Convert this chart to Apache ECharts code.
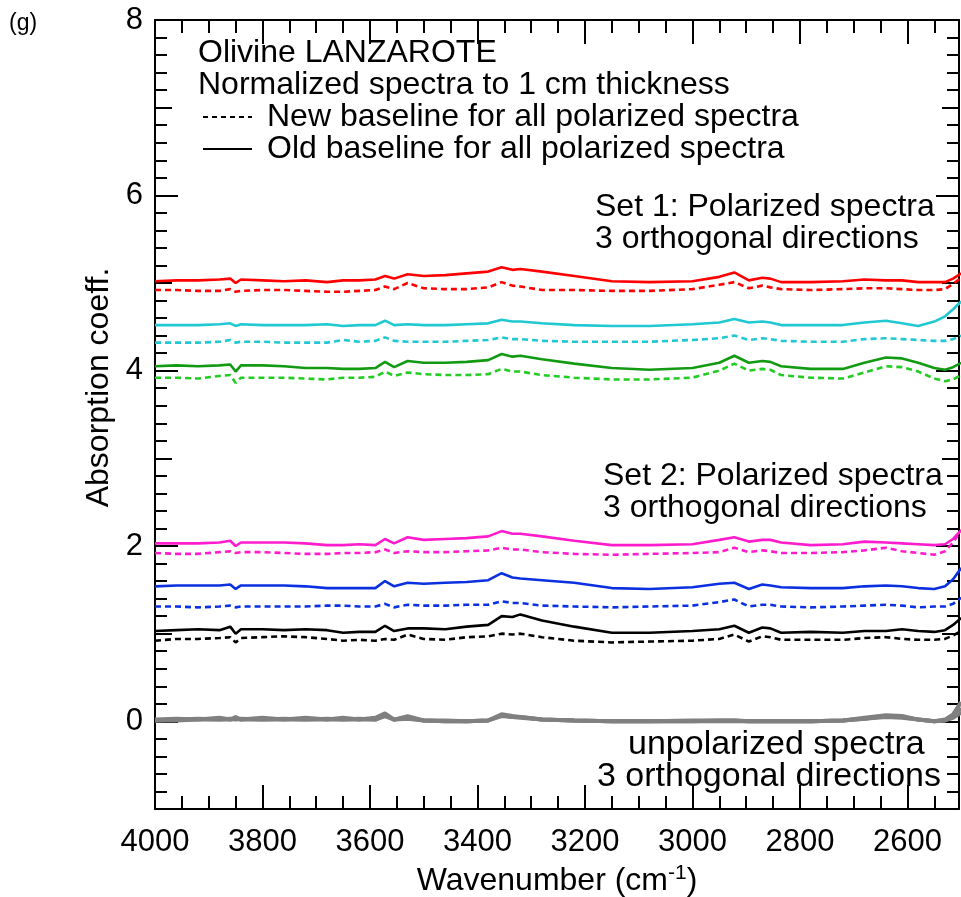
<!DOCTYPE html>
<html><head><meta charset="utf-8">
<script src="https://cdn.jsdelivr.net/npm/echarts@6/dist/echarts.min.js"></script>
<style>html,body{margin:0;padding:0;background:#fff}#c{width:961px;height:897px}</style>
</head><body><div id="c"></div>
<script>
// Wavenumber grid (cm-1)
const wn = [4000,3960,3920,3880,3860,3850,3840,3800,3760,3720,3680,3650,3620,3590,3572,3555,3530,3500,3460,3420,3380,3355,3335,3320,3280,3220,3150,3080,3000,2950,2922,2895,2870,2855,2835,2780,2720,2680,2640,2610,2580,2550,2530,2515,2500];

// Set 1
const redOld   = [5.02,5.03,5.03,5.04,5.05,5.00,5.04,5.03,5.02,5.03,5.01,5.03,5.03,5.04,5.08,5.05,5.10,5.08,5.09,5.11,5.13,5.18,5.15,5.16,5.13,5.08,5.02,5.01,5.02,5.07,5.12,5.03,5.06,5.05,5.01,5.01,5.02,5.04,5.03,5.03,5.01,5.01,5.01,5.05,5.11];
const redNew   = [4.92,4.92,4.91,4.91,4.93,4.90,4.91,4.92,4.92,4.91,4.90,4.90,4.91,4.92,4.96,4.93,5.00,4.94,4.93,4.93,4.95,5.01,4.97,4.96,4.92,4.92,4.91,4.91,4.93,4.98,5.01,4.94,4.97,4.95,4.93,4.92,4.93,4.94,4.94,4.93,4.92,4.92,4.93,4.99,5.06];
const cyanOld  = [4.52,4.52,4.52,4.53,4.54,4.51,4.53,4.52,4.52,4.52,4.53,4.51,4.52,4.52,4.57,4.52,4.53,4.52,4.52,4.53,4.54,4.58,4.56,4.56,4.54,4.52,4.51,4.51,4.53,4.55,4.59,4.55,4.56,4.55,4.52,4.52,4.52,4.55,4.57,4.54,4.51,4.56,4.62,4.70,4.79];
const cyanNew  = [4.32,4.32,4.32,4.33,4.35,4.32,4.33,4.33,4.32,4.32,4.32,4.35,4.33,4.34,4.38,4.34,4.33,4.33,4.33,4.34,4.35,4.38,4.36,4.36,4.34,4.33,4.33,4.33,4.35,4.37,4.40,4.35,4.37,4.36,4.34,4.33,4.33,4.36,4.37,4.36,4.35,4.34,4.34,4.36,4.40];
const greenOld = [4.05,4.06,4.05,4.06,4.07,3.99,4.06,4.06,4.05,4.03,4.03,4.02,4.02,4.03,4.10,4.04,4.11,4.09,4.09,4.10,4.12,4.19,4.16,4.17,4.13,4.08,4.03,4.01,4.03,4.09,4.17,4.09,4.11,4.10,4.05,4.02,4.02,4.09,4.15,4.14,4.09,4.03,4.01,4.04,4.09];
const greenNew = [3.92,3.92,3.91,3.94,3.95,3.86,3.92,3.92,3.92,3.91,3.90,3.92,3.92,3.93,3.99,3.94,3.98,3.96,3.95,3.95,3.96,4.02,3.99,3.99,3.95,3.92,3.90,3.90,3.92,4.00,4.08,4.00,4.02,4.01,3.95,3.92,3.91,3.98,4.05,4.04,3.99,3.91,3.88,3.90,3.95];
// Set 2
const magOld   = [2.03,2.03,2.03,2.04,2.06,2.00,2.04,2.04,2.04,2.03,2.01,2.01,2.02,2.01,2.08,2.03,2.10,2.07,2.08,2.09,2.11,2.17,2.14,2.14,2.11,2.06,2.01,2.01,2.02,2.07,2.10,2.05,2.07,2.07,2.04,2.01,2.02,2.05,2.04,2.03,2.02,2.01,2.02,2.08,2.18];
const magNew   = [1.92,1.91,1.91,1.93,1.94,1.92,1.93,1.93,1.92,1.91,1.91,1.92,1.92,1.93,1.96,1.92,1.94,1.93,1.93,1.94,1.95,1.98,1.96,1.96,1.93,1.91,1.90,1.91,1.92,1.93,1.98,1.93,1.95,1.94,1.92,1.92,1.93,1.95,1.98,1.94,1.92,1.90,1.94,2.04,2.18];
const blueOld  = [1.54,1.55,1.55,1.55,1.56,1.51,1.55,1.55,1.55,1.54,1.52,1.52,1.52,1.52,1.60,1.54,1.58,1.57,1.58,1.59,1.61,1.69,1.64,1.63,1.61,1.58,1.52,1.51,1.53,1.57,1.58,1.51,1.56,1.55,1.53,1.52,1.52,1.54,1.55,1.54,1.52,1.51,1.54,1.62,1.75];
const blueNew  = [1.31,1.31,1.30,1.31,1.32,1.30,1.31,1.31,1.31,1.31,1.32,1.32,1.31,1.31,1.34,1.30,1.33,1.32,1.32,1.33,1.33,1.37,1.35,1.35,1.32,1.31,1.30,1.31,1.32,1.36,1.39,1.31,1.33,1.33,1.31,1.30,1.31,1.32,1.33,1.32,1.30,1.31,1.31,1.34,1.41];
const blackOld = [1.03,1.04,1.05,1.04,1.08,1.00,1.05,1.05,1.04,1.05,1.04,1.01,1.02,1.02,1.09,1.03,1.06,1.06,1.05,1.08,1.10,1.20,1.19,1.22,1.15,1.08,1.01,1.01,1.03,1.05,1.09,1.01,1.07,1.06,1.01,1.02,1.01,1.03,1.03,1.05,1.03,1.02,1.04,1.10,1.18];
const blackNew = [0.92,0.94,0.94,0.95,0.96,0.90,0.95,0.96,0.97,0.96,0.94,0.92,0.93,0.92,0.94,0.93,0.99,0.94,0.93,0.96,0.97,1.00,0.99,1.00,0.96,0.92,0.90,0.91,0.92,0.94,0.99,0.91,0.97,0.96,0.93,0.93,0.93,0.95,0.96,0.94,0.93,0.93,0.94,0.98,1.03];
// Unpolarized (3 directions)
const unpol1 = [0.02,0.03,0.02,0.04,0.02,0.05,0.02,0.04,0.02,0.04,0.02,0.04,0.02,0.04,0.09,0.02,0.06,0.01,0.00,0.00,0.01,0.08,0.06,0.05,0.02,0.01,0.00,0.00,0.01,0.01,0.01,0.00,0.00,0.00,0.00,0.00,0.01,0.04,0.07,0.06,0.02,0.00,0.02,0.08,0.22];
const unpol2 = [0.01,0.02,0.03,0.02,0.03,0.02,0.03,0.02,0.03,0.02,0.03,0.02,0.03,0.02,0.07,0.02,0.04,0.01,0.01,0.00,0.01,0.07,0.05,0.05,0.02,0.01,0.00,0.00,0.00,0.01,0.01,0.00,0.00,0.00,0.00,0.00,0.01,0.03,0.06,0.05,0.02,0.00,0.01,0.05,0.15];
const unpol3 = [0.01,0.01,0.02,0.02,0.02,0.03,0.02,0.02,0.02,0.02,0.02,0.02,0.02,0.02,0.06,0.02,0.03,0.01,0.00,0.00,0.01,0.06,0.05,0.04,0.02,0.01,0.00,0.00,0.00,0.00,0.00,0.00,0.00,0.00,0.00,0.00,0.01,0.03,0.05,0.04,0.02,0.00,0.01,0.04,0.10];

// Ticks
const xMajorTicks = [2600,2800,3000,3200,3400,3600,3800,4000];
const yLabelTicks = [0,2,4,6,8];
const yOddTicks = [-1,1,3,5,7];
const xMinorTicks = []; for (let v = 2550; v < 4000; v += 50) xMinorTicks.push(v);
const yMinorTicks = []; for (let i = -5; i <= 40; i++) { if (i % 5 !== 0) yMinorTicks.push(Math.round(i * 20) / 100); }

const FONT = '"Liberation Sans", Arial, Helvetica, sans-serif';
const X_MIN = 2504, X_MAX = 4000, Y_MIN = -1, Y_MAX = 8;

function xAx(pos, ticks, len, showLine, showLabel) {
  return {
    type: 'value', position: pos, min: X_MIN, max: X_MAX, inverse: true,
    axisLine: { show: showLine, onZero: false, lineStyle: { color: '#000', width: 2 } },
    axisTick: { show: true, inside: true, length: len, customValues: ticks, lineStyle: { color: '#000', width: 2 } },
    axisLabel: showLabel ? { show: true, customValues: xMajorTicks, formatter: v => String(v), fontSize: 31, fontFamily: FONT, color: '#000', margin: 18 } : { show: false },
    splitLine: { show: false }
  };
}
function yAx(pos, ticks, len, showLine, showLabel) {
  return {
    type: 'value', position: pos, min: Y_MIN, max: Y_MAX,
    axisLine: { show: showLine, onZero: false, lineStyle: { color: '#000', width: 2 } },
    axisTick: { show: true, inside: true, length: len, customValues: ticks, lineStyle: { color: '#000', width: 2 } },
    axisLabel: showLabel ? { show: true, customValues: yLabelTicks, formatter: v => String(v), fontSize: 31, fontFamily: FONT, color: '#000', margin: 12 } : { show: false },
    splitLine: { show: false }
  };
}

const xAxes = [
  xAx('bottom', xMajorTicks, 24, true, true),
  xAx('bottom', xMinorTicks, 13, false, false),
  xAx('top', xMajorTicks, 24, true, false),
  xAx('top', xMinorTicks, 13, false, false)
];
Object.assign(xAxes[0], {
  name: 'Wavenumber (cm{sup|-1})', nameLocation: 'middle', nameGap: 46,
  nameTextStyle: { fontSize: 32, fontFamily: FONT, color: '#000', rich: { sup: { fontSize: 21, fontFamily: FONT, color: '#000', verticalAlign: 'top', padding: [0, 0, 16, 0] } } }
});
const yAxes = [
  yAx('left', yLabelTicks, 23, true, true),
  yAx('left', yOddTicks, 17, false, false),
  yAx('left', yMinorTicks, 12, false, false),
  yAx('right', yLabelTicks, 23, true, false),
  yAx('right', yOddTicks, 17, false, false),
  yAx('right', yMinorTicks, 12, false, false)
];
Object.assign(yAxes[0], {
  name: 'Absorption coeff.', nameLocation: 'middle', nameRotate: 90, nameGap: 35,
  nameTextStyle: { fontSize: 32, fontFamily: FONT, color: '#000', padding: [0, 0, 0, 54] }
});

function pairs(ys) { return wn.map((w, i) => [w, ys[i]]); }
function line(name, ys, color, dashed, width) {
  return {
    name, type: 'line', xAxisIndex: 0, yAxisIndex: 0, data: pairs(ys), symbol: 'none', smooth: false,
    clip: true, silent: true,
    lineStyle: { color, width: width || 2.6, type: dashed ? [6, 4] : 'solid' }
  };
}
const series = [
  line('unpol1', unpol1, '#808080', false, 4),
  line('unpol2', unpol2, '#808080', false, 4),
  line('unpol3', unpol3, '#808080', false, 4),
  line('blackNew', blackNew, '#000000', true),
  line('blackOld', blackOld, '#000000', false),
  line('blueNew', blueNew, '#0a30e0', true),
  line('blueOld', blueOld, '#0a30e0', false),
  line('magNew', magNew, '#ff1ccc', true),
  line('magOld', magOld, '#ff1ccc', false),
  line('greenNew', greenNew, '#22cc22', true),
  line('greenOld', greenOld, '#139a13', false),
  line('cyanNew', cyanNew, '#20c8d2', true),
  line('cyanOld', cyanOld, '#20c8d2', false),
  line('redNew', redNew, '#ff0000', true),
  line('redOld', redOld, '#ff0000', false)
];

function ctext(x, y, s, size) {
  return { type: 'text', x: x, y: y, style: { text: s, fontSize: size || 32, fontFamily: FONT, fill: '#000', textAlign: 'left', textVerticalAlign: 'middle' }, z: 100 };
}
const graphic = [
  ctext(9, 24, '(g)', 23),
  ctext(198, 53, 'Olivine LANZAROTE'),
  ctext(198, 85, 'Normalized spectra to 1 cm thickness'),
  { type: 'line', shape: { x1: 203, y1: 117, x2: 252, y2: 117 }, style: { stroke: '#000', lineWidth: 2, lineDash: [5, 4] }, z: 100 },
  ctext(267, 117, 'New baseline for all polarized spectra'),
  { type: 'line', shape: { x1: 203, y1: 149, x2: 252, y2: 149 }, style: { stroke: '#000', lineWidth: 2 }, z: 100 },
  ctext(267, 149, 'Old baseline for all polarized spectra'),
  ctext(595, 207, 'Set 1: Polarized spectra'),
  ctext(595, 239, '3 orthogonal directions'),
  ctext(603, 476, 'Set 2: Polarized spectra'),
  ctext(603, 508, '3 orthogonal directions'),
  ctext(628, 745, 'unpolarized spectra', 34),
  ctext(597, 777, '3 orthogonal directions', 34)
];

const chart = echarts.init(document.getElementById('c'), null, { renderer: 'canvas' });
chart.setOption({
  animation: false,
  backgroundColor: '#fff',
  grid: { left: 155, right: 2, top: 20, bottom: 88, containLabel: false, outerBoundsMode: 'none' },
  xAxis: xAxes,
  yAxis: yAxes,
  series: series,
  graphic: graphic
});
</script>
</body></html>
